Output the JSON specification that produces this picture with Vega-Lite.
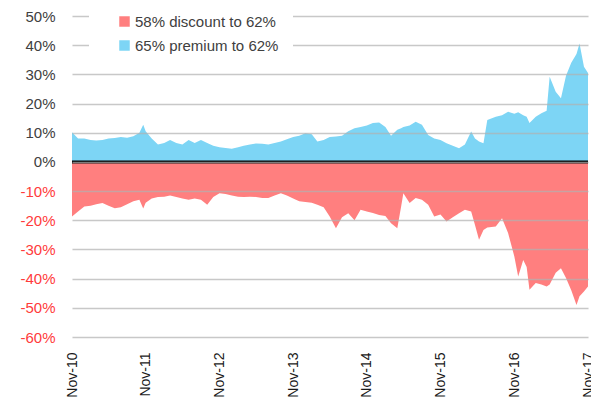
{
  "$schema": "https://vega.github.io/schema/vega-lite/v6.json",
  "width": 516,
  "height": 321,
  "autosize": {"type": "none"},
  "padding": {"left": 72, "top": 16, "right": 3, "bottom": 67},
  "background": "white",
  "config": {
    "view": {"stroke": null},
    "font": "Liberation Sans"
  },
  "data": {
    "values": [
      {"date": "2010-11-01", "premium": 10.2, "discount": -18.7},
      {"date": "2010-12-01", "premium": 8.0, "discount": -17.0},
      {"date": "2011-01-01", "premium": 8.0, "discount": -15.3},
      {"date": "2011-02-01", "premium": 7.5, "discount": -15.0},
      {"date": "2011-03-01", "premium": 7.3, "discount": -14.5},
      {"date": "2011-04-01", "premium": 7.5, "discount": -14.1},
      {"date": "2011-05-01", "premium": 8.0, "discount": -15.0},
      {"date": "2011-06-01", "premium": 8.2, "discount": -15.9},
      {"date": "2011-07-01", "premium": 8.5, "discount": -15.5},
      {"date": "2011-08-01", "premium": 8.3, "discount": -14.5},
      {"date": "2011-09-01", "premium": 8.8, "discount": -13.5},
      {"date": "2011-10-01", "premium": 10.0, "discount": -13.0},
      {"date": "2011-10-20", "premium": 12.7, "discount": -16.0},
      {"date": "2011-11-01", "premium": 10.5, "discount": -14.0},
      {"date": "2011-12-01", "premium": 8.0, "discount": -12.5},
      {"date": "2012-01-01", "premium": 6.0, "discount": -12.0},
      {"date": "2012-02-01", "premium": 6.5, "discount": -11.9},
      {"date": "2012-03-01", "premium": 7.5, "discount": -11.5},
      {"date": "2012-04-01", "premium": 6.5, "discount": -12.0},
      {"date": "2012-05-01", "premium": 6.0, "discount": -12.5},
      {"date": "2012-06-01", "premium": 7.5, "discount": -13.0},
      {"date": "2012-07-01", "premium": 6.5, "discount": -12.5},
      {"date": "2012-08-01", "premium": 7.5, "discount": -13.0},
      {"date": "2012-09-01", "premium": 6.5, "discount": -14.7},
      {"date": "2012-10-01", "premium": 5.5, "discount": -12.0},
      {"date": "2012-11-01", "premium": 5.0, "discount": -10.7},
      {"date": "2012-12-01", "premium": 4.8, "discount": -11.0},
      {"date": "2013-01-01", "premium": 4.5, "discount": -11.5},
      {"date": "2013-02-01", "premium": 5.0, "discount": -11.9},
      {"date": "2013-03-01", "premium": 5.5, "discount": -12.0},
      {"date": "2013-04-01", "premium": 6.0, "discount": -11.9},
      {"date": "2013-05-01", "premium": 6.3, "discount": -12.0},
      {"date": "2013-06-01", "premium": 6.2, "discount": -12.4},
      {"date": "2013-07-01", "premium": 6.0, "discount": -12.4},
      {"date": "2013-08-01", "premium": 6.5, "discount": -11.5},
      {"date": "2013-09-01", "premium": 7.0, "discount": -10.7},
      {"date": "2013-10-01", "premium": 7.8, "discount": -11.5},
      {"date": "2013-11-01", "premium": 8.5, "discount": -12.5},
      {"date": "2013-12-01", "premium": 9.0, "discount": -13.5},
      {"date": "2014-01-01", "premium": 9.8, "discount": -13.7},
      {"date": "2014-02-01", "premium": 9.5, "discount": -14.0},
      {"date": "2014-03-01", "premium": 7.0, "discount": -14.7},
      {"date": "2014-04-01", "premium": 7.5, "discount": -15.5},
      {"date": "2014-05-01", "premium": 8.5, "discount": -18.7},
      {"date": "2014-06-01", "premium": 8.7, "discount": -22.7},
      {"date": "2014-07-01", "premium": 9.0, "discount": -19.0},
      {"date": "2014-08-01", "premium": 10.5, "discount": -17.6},
      {"date": "2014-09-01", "premium": 11.5, "discount": -20.0},
      {"date": "2014-10-01", "premium": 12.0, "discount": -16.4},
      {"date": "2014-11-01", "premium": 12.5, "discount": -17.0},
      {"date": "2014-12-01", "premium": 13.3, "discount": -17.5},
      {"date": "2015-01-01", "premium": 13.5, "discount": -18.2},
      {"date": "2015-02-01", "premium": 12.0, "discount": -18.5},
      {"date": "2015-03-01", "premium": 9.0, "discount": -21.0},
      {"date": "2015-04-01", "premium": 11.0, "discount": -22.7},
      {"date": "2015-04-20", "premium": 11.5, "discount": -15.3},
      {"date": "2015-05-01", "premium": 12.0, "discount": -10.7},
      {"date": "2015-06-01", "premium": 12.5, "discount": -14.1},
      {"date": "2015-07-01", "premium": 13.8, "discount": -12.4},
      {"date": "2015-08-01", "premium": 12.7, "discount": -13.0},
      {"date": "2015-09-01", "premium": 9.2, "discount": -14.7},
      {"date": "2015-10-01", "premium": 8.0, "discount": -18.7},
      {"date": "2015-11-01", "premium": 7.5, "discount": -18.0},
      {"date": "2015-12-01", "premium": 6.4, "discount": -20.4},
      {"date": "2016-01-01", "premium": 5.5, "discount": -19.0},
      {"date": "2016-02-01", "premium": 4.7, "discount": -17.6},
      {"date": "2016-03-01", "premium": 6.0, "discount": -16.4},
      {"date": "2016-04-01", "premium": 10.4, "discount": -17.0},
      {"date": "2016-04-20", "premium": 8.0, "discount": -21.6},
      {"date": "2016-05-10", "premium": 7.0, "discount": -26.7},
      {"date": "2016-06-01", "premium": 6.4, "discount": -23.3},
      {"date": "2016-06-20", "premium": 14.4, "discount": -22.5},
      {"date": "2016-08-01", "premium": 15.5, "discount": -22.1},
      {"date": "2016-09-01", "premium": 16.0, "discount": -19.3},
      {"date": "2016-10-01", "premium": 17.2, "discount": -24.4},
      {"date": "2016-11-01", "premium": 16.5, "discount": -32.4},
      {"date": "2016-11-20", "premium": 17.0, "discount": -39.3},
      {"date": "2016-12-15", "premium": 16.0, "discount": -33.6},
      {"date": "2017-01-01", "premium": 15.5, "discount": -36.0},
      {"date": "2017-01-15", "premium": 13.3, "discount": -43.8},
      {"date": "2017-02-15", "premium": 15.5, "discount": -41.5},
      {"date": "2017-03-15", "premium": 16.7, "discount": -42.0},
      {"date": "2017-04-10", "premium": 17.5, "discount": -42.7},
      {"date": "2017-04-25", "premium": 29.2, "discount": -42.0},
      {"date": "2017-05-25", "premium": 24.0, "discount": -38.0},
      {"date": "2017-06-20", "premium": 21.8, "discount": -36.4},
      {"date": "2017-07-15", "premium": 29.5, "discount": -39.8},
      {"date": "2017-08-10", "premium": 34.0, "discount": -44.0},
      {"date": "2017-09-05", "premium": 37.0, "discount": -49.0},
      {"date": "2017-09-20", "premium": 40.6, "discount": -46.0},
      {"date": "2017-10-12", "premium": 32.6, "discount": -44.4},
      {"date": "2017-11-01", "premium": 30.5, "discount": -42.7}
    ]
  },
  "layer": [
    {
      "transform": [{"fold": ["discount", "premium"], "as": ["series", "value"]}],
      "mark": {"type": "area", "interpolate": "linear"},
      "encoding": {
        "x": {
          "field": "date",
          "type": "temporal",
          "scale": {"domain": ["2010-11-01", "2017-11-01"]},
          "axis": {
            "title": null,
            "grid": false,
            "domain": false,
            "ticks": false,
            "tickCount": 20,
            "values": ["2010-11-01", "2011-11-01", "2012-11-01", "2013-11-01", "2014-11-01", "2015-11-01", "2016-11-01", "2017-11-01"],
            "labelExpr": "timeFormat(datum.value, '%b-%y')",
            "labelAngle": -90,
            "labelFontSize": 14,
            "labelColor": "#1a1a1a",
            "labelPadding": 15,
            "labelOverlap": false,
            "labelBound": false,
            "labelFlush": false
          }
        },
        "y": {
          "field": "value",
          "type": "quantitative",
          "stack": null,
          "scale": {"domain": [-60, 50], "nice": false},
          "axis": {
            "title": null,
            "tickCount": 20,
            "values": [-60, -50, -40, -30, -20, -10, 0, 10, 20, 30, 40, 50],
            "labelExpr": "datum.value + '%'",
            "domain": false,
            "ticks": false,
            "labelOverlap": false,
            "labelPadding": 17,
            "labelFontSize": 15,
            "labelColor": {"condition": {"test": "datum.value < 0", "value": "#ff3b3b"}, "value": "#404040"},
            "gridColor": "#b0b0b0",
            "gridOpacity": 0.7,
            "gridWidth": 1.5,
            "zindex": 1
          }
        },
        "color": {
          "field": "series",
          "type": "nominal",
          "scale": {"domain": ["discount", "premium"], "range": ["#ff7f7f", "#7dd5f5"]},
          "legend": {
            "title": null,
            "orient": "none",
            "legendX": 17,
            "legendY": -16,
            "fillColor": "white",
            "padding": 14,
            "symbolOffset": 14,
            "symbolType": "square",
            "symbolSize": 110,
            "symbolStrokeWidth": 0,
            "labelFontSize": 15,
            "labelColor": "#404040",
            "labelOffset": 3,
            "rowPadding": 8,
            "labelExpr": "datum.value == 'discount' ? '58% discount to 62%' : '65% premium to 62%'",
            "zindex": 2
          }
        }
      }
    },
    {
      "data": {"values": [{"y": 0}]},
      "mark": {"type": "rule", "color": "black", "strokeWidth": 3},
      "encoding": {"y": {"field": "y", "type": "quantitative"}}
    }
  ]
}
